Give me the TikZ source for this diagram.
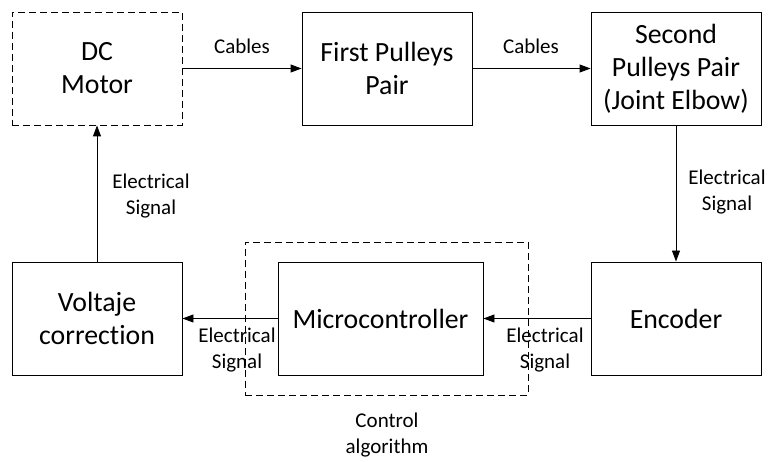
\documentclass[tikz,border=0pt]{standalone}
\usepackage{fontspec}
\setmainfont{Carlito}[Ligatures={NoCommon,NoRequired}]
\usetikzlibrary{arrows.meta}
\begin{document}
\begin{tikzpicture}[x=1bp,y=-1bp,
  block/.style={draw, line width=0.9bp, minimum width=170bp, minimum height=113bp,
    inner sep=0pt, align=center, font=\fontsize{27.8bp}{33bp}\selectfont},
  dashedblock/.style={block, dash pattern=on 7bp off 4bp},
  groupbox/.style={draw, line width=0.9bp, dash pattern=on 7bp off 4bp, inner sep=0pt},
  lbl/.style={align=center, inner sep=0pt, font=\fontsize{21bp}{26bp}\selectfont},
  flow/.style={draw, line width=0.9bp, -{Triangle[length=11bp,width=8bp]}},
]
\useasboundingbox (0,0) rectangle (772,462);

% dashed frame around the controller
\node[groupbox, minimum width=283bp, minimum height=153bp] (ctrl) at (386.5,318.5) {};

% blocks
\node[dashedblock] (motor) at (97,68.5) {DC\\Motor};
\node[block] (first) at (387,68.5) {First Pulleys\\Pair};
\node[block] (second) at (676,68.5) {Second\\Pulleys Pair\\(Joint Elbow)};
\node[block] (enc) at (676,318.5) {Encoder};
\node[block, minimum width=205bp] (mcu) at (380.5,318.5) {Microcontroller};
\node[block] (volt) at (97,318.5) {Voltaje\\correction};

% connectors
\draw[flow] (motor) -- (first);
\draw[flow] (first) -- (second);
\draw[flow] (second) -- (enc);
\draw[flow] (enc) -- (mcu);
\draw[flow] (mcu) -- (volt);
\draw[flow] (volt) -- (motor);

% connector labels
\node[lbl] (l1) at (242,46) {Cables};
\node[lbl] (l2) at (531,46) {Cables};
\node[lbl] (l3) at (727,192) {Electrical\\Signal};
\node[lbl] (l4) at (545,350) {Electrical\\Signal};
\node[lbl] (l5) at (237,350) {Electrical\\Signal};
\node[lbl] (l6) at (151,196) {Electrical\\Signal};
\node[lbl] (l7) at (387,435) {Control\\algorithm};
\end{tikzpicture}
\end{document}
